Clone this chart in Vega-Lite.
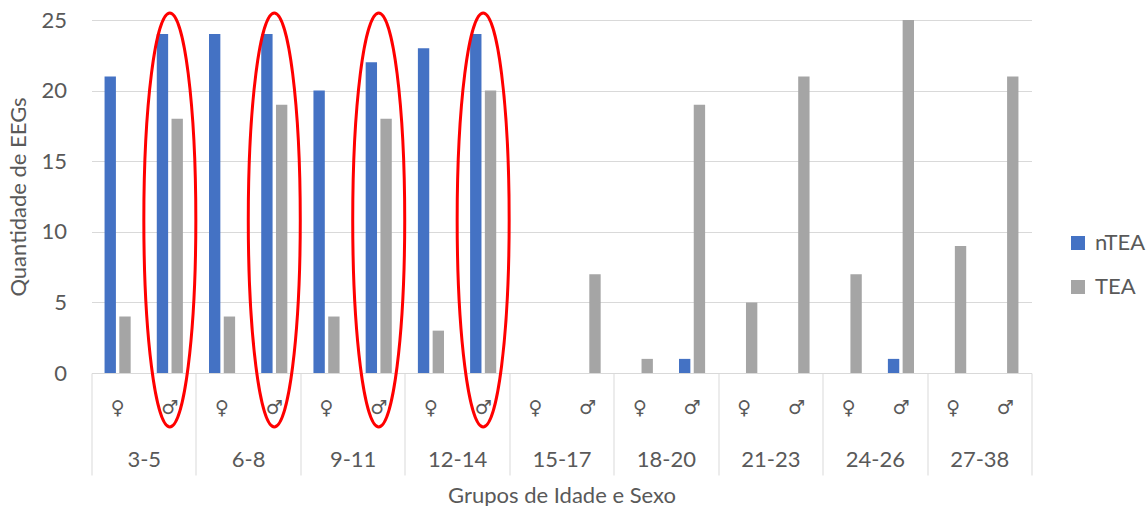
{
  "$schema": "https://vega.github.io/schema/vega-lite/v6.json",
  "width": 940,
  "height": 353,
  "autosize": {"type": "none"},
  "padding": {"left": 91.5, "top": 20, "right": 114.5, "bottom": 133},
  "background": "white",
  "config": {"font": "Lato", "view": {"stroke": null}},
  "datasets": {
    "eegs": [
      {"grupo": "3-5 ♀", "serie": "nTEA", "eegs": 21},
      {"grupo": "3-5 ♀", "serie": "TEA", "eegs": 4},
      {"grupo": "3-5 ♂", "serie": "nTEA", "eegs": 24},
      {"grupo": "3-5 ♂", "serie": "TEA", "eegs": 18},
      {"grupo": "6-8 ♀", "serie": "nTEA", "eegs": 24},
      {"grupo": "6-8 ♀", "serie": "TEA", "eegs": 4},
      {"grupo": "6-8 ♂", "serie": "nTEA", "eegs": 24},
      {"grupo": "6-8 ♂", "serie": "TEA", "eegs": 19},
      {"grupo": "9-11 ♀", "serie": "nTEA", "eegs": 20},
      {"grupo": "9-11 ♀", "serie": "TEA", "eegs": 4},
      {"grupo": "9-11 ♂", "serie": "nTEA", "eegs": 22},
      {"grupo": "9-11 ♂", "serie": "TEA", "eegs": 18},
      {"grupo": "12-14 ♀", "serie": "nTEA", "eegs": 23},
      {"grupo": "12-14 ♀", "serie": "TEA", "eegs": 3},
      {"grupo": "12-14 ♂", "serie": "nTEA", "eegs": 24},
      {"grupo": "12-14 ♂", "serie": "TEA", "eegs": 20},
      {"grupo": "15-17 ♀", "serie": "nTEA", "eegs": 0},
      {"grupo": "15-17 ♀", "serie": "TEA", "eegs": 0},
      {"grupo": "15-17 ♂", "serie": "nTEA", "eegs": 0},
      {"grupo": "15-17 ♂", "serie": "TEA", "eegs": 7},
      {"grupo": "18-20 ♀", "serie": "nTEA", "eegs": 0},
      {"grupo": "18-20 ♀", "serie": "TEA", "eegs": 1},
      {"grupo": "18-20 ♂", "serie": "nTEA", "eegs": 1},
      {"grupo": "18-20 ♂", "serie": "TEA", "eegs": 19},
      {"grupo": "21-23 ♀", "serie": "nTEA", "eegs": 0},
      {"grupo": "21-23 ♀", "serie": "TEA", "eegs": 5},
      {"grupo": "21-23 ♂", "serie": "nTEA", "eegs": 0},
      {"grupo": "21-23 ♂", "serie": "TEA", "eegs": 21},
      {"grupo": "24-26 ♀", "serie": "nTEA", "eegs": 0},
      {"grupo": "24-26 ♀", "serie": "TEA", "eegs": 7},
      {"grupo": "24-26 ♂", "serie": "nTEA", "eegs": 1},
      {"grupo": "24-26 ♂", "serie": "TEA", "eegs": 25},
      {"grupo": "27-38 ♀", "serie": "nTEA", "eegs": 0},
      {"grupo": "27-38 ♀", "serie": "TEA", "eegs": 9},
      {"grupo": "27-38 ♂", "serie": "nTEA", "eegs": 0},
      {"grupo": "27-38 ♂", "serie": "TEA", "eegs": 21}
    ],
    "destaque": [
      {"grupo": "3-5 ♂"},
      {"grupo": "6-8 ♂"},
      {"grupo": "9-11 ♂"},
      {"grupo": "12-14 ♂"}
    ],
    "faixas": [
      {"faixa": "3-5"}, {"faixa": "6-8"}, {"faixa": "9-11"},
      {"faixa": "12-14"}, {"faixa": "15-17"}, {"faixa": "18-20"},
      {"faixa": "21-23"}, {"faixa": "24-26"}, {"faixa": "27-38"}
    ]
  },
  "layer": [
    {
      "layer": [
        {
          "data": {"name": "eegs"},
          "mark": {"type": "bar"},
          "encoding": {
            "x": {
              "field": "grupo",
              "type": "nominal",
              "sort": ["3-5 ♀", "3-5 ♂", "6-8 ♀", "6-8 ♂", "9-11 ♀", "9-11 ♂", "12-14 ♀", "12-14 ♂", "15-17 ♀", "15-17 ♂", "18-20 ♀", "18-20 ♂", "21-23 ♀", "21-23 ♂", "24-26 ♀", "24-26 ♂", "27-38 ♀", "27-38 ♂"],
              "scale": {"paddingInner": 0.5, "paddingOuter": 0.25},
              "axis": {
                "orient": "bottom",
                "title": null,
                "labelExpr": "split(datum.value, ' ')[1]",
                "labelAngle": 0,
                "ticks": false,
                "domain": true,
                "domainColor": "#D9D9D9",
                "domainWidth": 1,
                "labelPadding": 34,
                "labelBaseline": "middle",
                "labelFont": "DejaVu Sans",
                "labelFontSize": 19,
                "labelColor": "#595959"
              }
            },
            "xOffset": {
              "field": "serie",
              "sort": ["nTEA", "TEA"],
              "scale": {"paddingInner": 0.23, "paddingOuter": 0}
            },
            "y": {
              "field": "eegs",
              "type": "quantitative",
              "scale": {"domain": [0, 25], "nice": false},
              "axis": {
                "title": "Quantidade de EEGs",
                "values": [0, 5, 10, 15, 20, 25],
                "grid": true,
                "gridColor": "#D9D9D9",
                "domain": false,
                "ticks": false,
                "labelPadding": 25,
                "labelFontSize": 22,
                "labelColor": "#595959",
                "titleFontSize": 22,
                "titleColor": "#595959",
                "titleFontWeight": "normal",
                "titleAngle": -90,
                "titleX": -66,
                "titleY": 176.5,
                "titleAlign": "center",
                "titleBaseline": "alphabetic"
              }
            },
            "color": {
              "field": "serie",
              "type": "nominal",
              "scale": {"domain": ["nTEA", "TEA"], "range": ["#4472C4", "#A5A5A5"]},
              "legend": {
                "title": null,
                "orient": "none",
                "legendX": 975.5,
                "legendY": 212,
                "symbolType": "square",
                "symbolSize": 196,
                "symbolStrokeWidth": 0,
                "symbolOpacity": 1,
                "labelFontSize": 22,
                "labelColor": "#595959",
                "labelOffset": 6,
                "rowPadding": 22
              }
            }
          }
        },
        {
          "data": {"name": "destaque"},
          "mark": {
            "type": "point",
            "shape": "M 0 -1 C 0.0694 -1 0.1256 -0.5523 0.1256 0 C 0.1256 0.5523 0.0694 1 0 1 C -0.0694 1 -0.1256 0.5523 -0.1256 0 C -0.1256 -0.5523 -0.0694 -1 0 -1 Z",
            "filled": false,
            "stroke": "#FF0000",
            "strokeWidth": 3,
            "opacity": 1,
            "size": 171396
          },
          "encoding": {
            "x": {
              "field": "grupo",
              "type": "nominal",
              "sort": ["3-5 ♀", "3-5 ♂", "6-8 ♀", "6-8 ♂", "9-11 ♀", "9-11 ♂", "12-14 ♀", "12-14 ♂", "15-17 ♀", "15-17 ♂", "18-20 ♀", "18-20 ♂", "21-23 ♀", "21-23 ♂", "24-26 ♀", "24-26 ♂", "27-38 ♀", "27-38 ♂"]
            },
            "y": {"datum": 10.84, "type": "quantitative"}
          }
        }
      ]
    },
    {
      "data": {"name": "faixas"},
      "mark": {"type": "rule", "opacity": 0},
      "encoding": {
        "x": {
          "field": "faixa",
          "type": "nominal",
          "sort": ["3-5", "6-8", "9-11", "12-14", "15-17", "18-20", "21-23", "24-26", "27-38"],
          "scale": {"paddingInner": 0, "paddingOuter": 0},
          "axis": {
            "orient": "bottom",
            "title": "Grupos de Idade e Sexo",
            "domain": false,
            "ticks": true,
            "tickBand": "extent",
            "tickSize": 102,
            "tickColor": "#D9D9D9",
            "tickWidth": 1,
            "labelAngle": 0,
            "labelPadding": -16,
            "labelBaseline": "middle",
            "labelFontSize": 22,
            "labelColor": "#595959",
            "titleFontSize": 22,
            "titleColor": "#595959",
            "titleFontWeight": "normal",
            "titleY": 129,
            "titleBaseline": "alphabetic"
          }
        }
      }
    }
  ],
  "resolve": {"scale": {"x": "independent"}, "axis": {"x": "independent"}}
}
